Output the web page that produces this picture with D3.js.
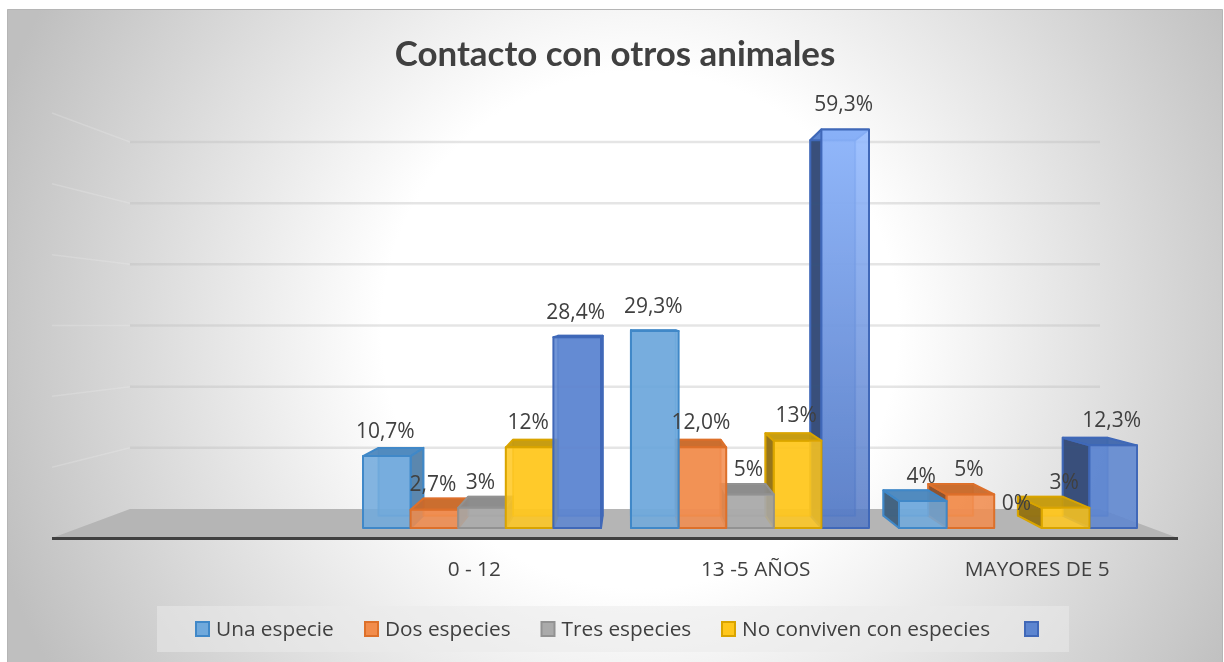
<!DOCTYPE html>
<html><head><meta charset="utf-8">
<script src="https://cdn.jsdelivr.net/npm/d3@7"></script>
<style>html,body{margin:0;padding:0;background:#fff}svg{display:block}text{font-family:"Open Sans",sans-serif}</style>
</head><body><div id="c"></div>
<script>
const title = "Contacto con otros animales";
const categories = ["", "0 - 12", "13 -5 AÑOS", "MAYORES DE 5"];
const seriesNames = ["Una especie", "Dos especies", "Tres especies", "No conviven con especies", ""];
const unaEspecie = [null, 10.7, 29.3, 4];
const dosEspecies = [null, 2.7, 12.0, 5];
const tresEspecies = [null, 3, 5, 0];
const noConviven = [null, 12, 13, 3];
const sinNombre = [null, 28.4, 59.3, 12.3];
const labelsUna = ["", "10,7%", "29,3%", "4%"];
const labelsDos = ["", "2,7%", "12,0%", "5%"];
const labelsTres = ["", "3%", "5%", "0%"];
const labelsNo = ["", "12%", "13%", "3%"];
const labelsSin = ["", "28,4%", "59,3%", "12,3%"];
const gridTicks = [0, 10, 20, 30, 40, 50, 60];
const seriesValues = [unaEspecie, dosEspecies, tresEspecies, noConviven, sinNombre];
const seriesLabels = [labelsUna, labelsDos, labelsTres, labelsNo, labelsSin];
const fills = ["#6fa9dc", "#f28c4c", "#aaaaaa", "#ffc71f", "#5c85d0"];
const strokes = ["#3f88c8", "#dd6f2a", "#929292", "#d9a400", "#3f68b8"];
const tops = ["#4e88bd", "#c96a2b", "#8a8a8a", "#c49a10", "#3e66ad"];
const W = 1224, H = 662;
const svg = d3.select("#c").append("svg").attr("width", W).attr("height", H);
const defs = svg.append("defs");
const bg = defs.append("radialGradient").attr("id","bg").attr("gradientUnits","userSpaceOnUse")
  .attr("cx",640).attr("cy",330).attr("r",680);
[[0,"#ffffff"],[.38,"#ffffff"],[1,"#bfbfbf"]].forEach(s=>bg.append("stop").attr("offset",s[0]).attr("stop-color",s[1]));
const tall = defs.append("linearGradient").attr("id","tall").attr("x1",0).attr("x2",0).attr("y1",0).attr("y2",1);
[[0,"#90b8ff"],[1,"#5479c4"]].forEach(s=>tall.append("stop").attr("offset",s[0]).attr("stop-color",s[1]));
const soft = defs.append("filter").attr("id","soft").attr("x",0).attr("y",0).attr("filterUnits","userSpaceOnUse")
  .attr("width",W).attr("height",H);
soft.append("feGaussianBlur").attr("stdDeviation",0.45);
svg.append("rect").attr("x",7).attr("y",9.5).attr("width",W-8.5).attr("height",H-9.5).attr("fill","url(#bg)");
svg.append("path").attr("d",`M7.5 ${H}V9.5H1222.5V${H}`).attr("fill","none").attr("stroke","#b5b5b5");
const root = svg.append("g").attr("filter","url(#soft)");

// scales
const yFront = d3.scaleLinear().domain([0,60]).range([528,124.8]);
const yBack = d3.scaleLinear().domain([0,60]).range([509,142]);
const xFront = d3.scaleBand().domain(categories).range([52,1178]);
const x0 = d3.scaleBand().domain(categories).range([80,1152]).paddingInner(30/268).paddingOuter(15/268);
const x1 = d3.scaleBand().domain(d3.range(5)).range([0,x0.bandwidth()]);
const vp = {x:630,y:315,t:0.058};
const bx = x=>x+(vp.x-x)*vp.t, by = y=>y+(vp.y-y)*vp.t;

// gridlines, with the faint left wall fanning out from the plot's mid height
const wallEnd = y => y + (y - yBack(30)) * 0.158;
root.append("g").selectAll("path").data(gridTicks.slice(1)).join("path")
  .attr("fill","none").attr("stroke","#bdbdbd").attr("stroke-opacity",.4).attr("stroke-width",2.5)
  .attr("d",d=>`M130 ${yBack(d)}H1100`);
root.append("g").selectAll("path").data(gridTicks.slice(1)).join("path")
  .attr("fill","none").attr("stroke","#f0f0f0").attr("stroke-opacity",.25).attr("stroke-width",1.5)
  .attr("d",d=>`M52 ${wallEnd(yBack(d))}L130 ${yBack(d)}`);
// floor
root.append("path").attr("fill","#b5b5b5").attr("d",`M52 538L130 ${yBack(0)}H1100L1178 538Z`);
root.append("line").attr("x1",52).attr("x2",1178).attr("y1",538.5).attr("y2",538.5).attr("stroke","#404040").attr("stroke-width",3);

// bars
const bars=[];
seriesValues.forEach((vals,s)=>vals.forEach((v,c)=>{
  if(v===null||v===0) return;
  const xl=x0(categories[c])+x1(s), xr=xl+x1.bandwidth();
  bars.push({s,v,xl,xr,yt:yFront(v),yb:yFront(0)});
}));
bars.sort((a,b)=>Math.abs((b.xl+b.xr)/2-vp.x)-Math.abs((a.xl+a.xr)/2-vp.x));
const poly=p=>"M"+p.map(q=>q.join(" ")).join("L")+"Z";
const gb=root.append("g");
bars.forEach(b=>{
  const g=gb.append("g").attr("stroke-width",2).attr("stroke",strokes[b.s]).attr("stroke-linejoin","round");
  const f={l:b.xl,r:b.xr,t:b.yt,b:b.yb}, k={l:bx(b.xl),r:bx(b.xr),t:by(b.yt),b:by(b.yb)};
  g.append("path").attr("d",poly([[k.l,k.t],[k.r,k.t],[k.r,k.b],[k.l,k.b]])).attr("fill",fills[b.s]).attr("fill-opacity",.6).attr("stroke-opacity",.6);
  if(k.l<f.l) g.append("path").attr("d",poly([[f.l,f.t],[k.l,k.t],[k.l,k.b],[f.l,f.b]]))
     .attr("fill",d3.color(fills[b.s]).darker(1.6)).attr("fill-opacity",.95);
  if(k.r>f.r) g.append("path").attr("d",poly([[f.r,f.t],[k.r,k.t],[k.r,k.b],[f.r,f.b]]))
     .attr("fill",d3.color(fills[b.s]).darker(.7)).attr("fill-opacity",.95);
  if(k.t>f.t) g.append("path").attr("d",poly([[f.l,f.t],[f.r,f.t],[k.r,k.t],[k.l,k.t]])).attr("fill",fills[b.s]);
  else g.append("path").attr("d",poly([[f.l,f.t],[f.r,f.t],[k.r,k.t],[k.l,k.t]])).attr("fill",tops[b.s]).attr("fill-opacity",.95);
  g.append("rect").attr("x",f.l).attr("y",f.t).attr("width",f.r-f.l).attr("height",f.b-f.t)
    .attr("fill",b.v>50?"url(#tall)":fills[b.s]).attr("fill-opacity",.86);
});

// category axis
const ax=root.append("g").attr("transform","translate(0,556)")
  .call(d3.axisBottom(xFront).tickSize(0).tickPadding(5));
ax.select(".domain").remove();
ax.selectAll("text").attr("font-size",20.8).attr("fill","#404040").style("font-family",'"Open Sans",sans-serif');

// data labels
const gl=root.append("g").attr("font-size",21).attr("fill","#404040").attr("text-anchor","middle");
seriesLabels.forEach((labs,s)=>labs.forEach((t,c)=>{
  if(!t) return;
  const xm=x0(categories[c])+x1(s)+x1.bandwidth()/2;
  gl.append("text").attr("x",xm-1.5).attr("y",yFront(seriesValues[s][c])-18.5).text(t);
}));

// title
root.append("text").attr("x",615).attr("y",66).attr("text-anchor","middle").attr("font-size",34.9).attr("font-weight",700).attr("fill","#404040").style("font-family","Lato,sans-serif").text(title);

// legend
root.append("rect").attr("x",157).attr("y",606).attr("width",912).attr("height",46).attr("fill","#eaeaea").attr("fill-opacity",.535);
const legendX=d3.scaleOrdinal().domain(d3.range(5)).range([196,365,541.5,722,1025]);
const lg=root.append("g");
seriesNames.forEach((n,i)=>{
  lg.append("rect").attr("x",legendX(i)).attr("y",622).attr("width",13).attr("height",14)
    .attr("fill",fills[i]).attr("stroke",strokes[i]).attr("stroke-width",2);
  if(n) lg.append("text").attr("x",legendX(i)+20).attr("y",636).attr("font-size",20.8).attr("fill","#404040").text(n);
});
</script></body></html>
